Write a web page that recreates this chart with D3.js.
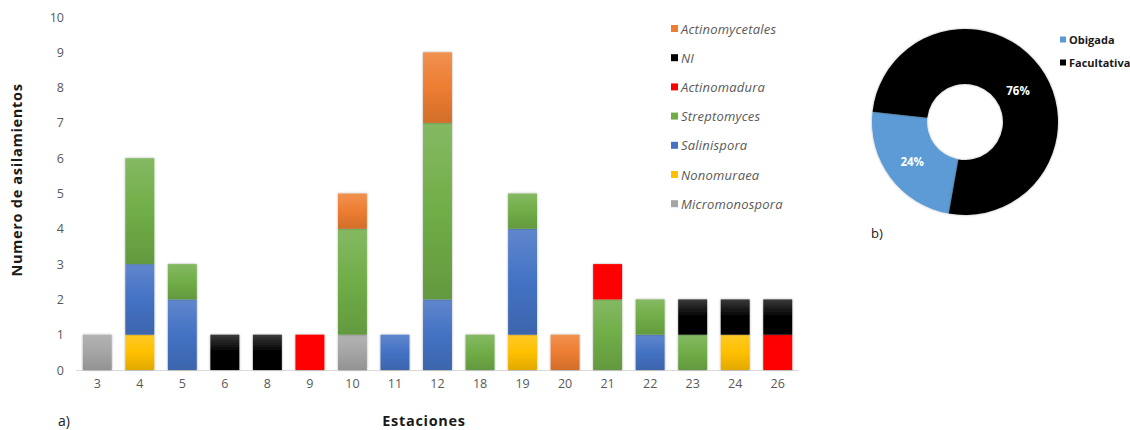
<!DOCTYPE html>
<meta charset="utf-8">
<style>
  body { margin: 0; background: #fff; }
  text { font-family: "Open Sans", "DejaVu Sans", sans-serif; }
  .tick text { fill: #595959; font-size: 12.5px; }
</style>
<svg width="1130" height="430"></svg>
<script src="https://d3js.org/d3.v7.min.js"></script>
<script>
  var estaciones = ["3", "4", "5", "6", "8", "9", "10", "11", "12", "18", "19", "20", "21", "22", "23", "24", "26"];
  var micromonospora = [1, 0, 0, 0, 0, 0, 1, 0, 0, 0, 0, 0, 0, 0, 0, 0, 0];
  var nonomuraea     = [0, 1, 0, 0, 0, 0, 0, 0, 0, 0, 1, 0, 0, 0, 0, 1, 0];
  var salinispora    = [0, 2, 2, 0, 0, 0, 0, 1, 2, 0, 3, 0, 0, 1, 0, 0, 0];
  var streptomyces   = [0, 3, 1, 0, 0, 0, 3, 0, 5, 1, 1, 0, 2, 1, 1, 0, 0];
  var actinomadura   = [0, 0, 0, 0, 0, 1, 0, 0, 0, 0, 0, 0, 1, 0, 0, 0, 1];
  var ni             = [0, 0, 0, 1, 1, 0, 0, 0, 0, 0, 0, 0, 0, 0, 1, 1, 1];
  var actinomycetales = [0, 0, 0, 0, 0, 0, 1, 0, 2, 0, 0, 1, 0, 0, 0, 0, 0];

  // bottom to top
  var series = ["Micromonospora", "Nonomuraea", "Salinispora", "Streptomyces", "Actinomadura", "NI", "Actinomycetales"];
  var seriesValues = [micromonospora, nonomuraea, salinispora, streptomyces, actinomadura, ni, actinomycetales];
  var colors = ["#a5a5a5", "#ffc000", "#4472c4", "#70ad47", "#ff0000", "#000000", "#ed7d31"];

  var donutLabels = ["Obigada", "Facultativa"];
  var donutValues = [24, 76];
  var donutColors = ["#5b9bd5", "#000000"];

  var svg = d3.select("svg");
  var defs = svg.append("defs");

  // gradients like the original bars (light top, darker bottom)
  colors.forEach(function(c, i) {
    var g = defs.append("linearGradient").attr("id", "grad" + i)
      .attr("x1", 0).attr("y1", 0).attr("x2", 0).attr("y2", 1);
    var col = d3.color(c);
    var top = c == "#000000" ? "#3a3a3a" : d3.interpolateRgb(c, "#ffffff")(0.15);
    var bot = c == "#000000" ? "#000000" : col.darker(0.35).formatHex();
    if (c == "#ff0000") { top = "#ff0000"; bot = "#ff0000"; }
    g.append("stop").attr("offset", "0%").attr("stop-color", top);
    g.append("stop").attr("offset", "50%").attr("stop-color", c);
    g.append("stop").attr("offset", "100%").attr("stop-color", bot);
  });

  var shadow = defs.append("filter").attr("id", "shadow")
    .attr("x", "-20%").attr("y", "-20%").attr("width", "140%").attr("height", "140%");
  shadow.append("feDropShadow").attr("dx", 0).attr("dy", 0).attr("stdDeviation", 1.2)
    .attr("flood-color", "#000").attr("flood-opacity", 0.35);

  // ---- stacked bars ----
  var x = d3.scaleBand().domain(estaciones).range([76, 799]).paddingInner(0.32).paddingOuter(0.16);
  var y = d3.scaleLinear().domain([0, 10]).range([370, 17]);

  var rows = estaciones.map(function(e, i) {
    var r = { est: e };
    series.forEach(function(s, j) { r[s] = seriesValues[j][i]; });
    return r;
  });
  var stacked = d3.stack().keys(series)(rows);

  var yAxis = svg.append("g").attr("transform", "translate(70,0)")
    .call(d3.axisLeft(y).ticks(10).tickSize(0).tickPadding(6));
  yAxis.select(".domain").remove();

  svg.append("line").attr("x1", 76).attr("x2", 799).attr("y1", y(0) + 0.5).attr("y2", y(0) + 0.5)
    .attr("stroke", "#d9d9d9");

  var xAxis = svg.append("g").attr("transform", "translate(0," + y(0) + ")")
    .call(d3.axisBottom(x).tickSize(0).tickPadding(9));
  xAxis.select(".domain").remove();

  svg.append("g").selectAll("g")
    .data(stacked)
    .enter().append("g")
    .attr("fill", function(d, i) { return "url(#grad" + i + ")"; })
    .selectAll("rect")
    .data(function(d) { return d.filter(function(p) { return p[1] > p[0]; }); })
    .enter().append("rect")
    .attr("x", function(d) { return x(d.data.est); })
    .attr("y", function(d) { return y(d[1]); })
    .attr("width", x.bandwidth())
    .attr("height", function(d) { return y(d[0]) - y(d[1]); })
    .attr("filter", "url(#shadow)");

  svg.append("text").attr("transform", "translate(22,180) rotate(-90)")
    .attr("text-anchor", "middle").attr("font-size", 14.5).attr("font-weight", "bold")
    .attr("letter-spacing", 0.7).attr("fill", "#1a1a1a").text("Numero de asilamientos");

  svg.append("text").attr("x", 424).attr("y", 426).attr("text-anchor", "middle")
    .attr("font-size", 14.5).attr("font-weight", "bold").attr("fill", "#1a1a1a")
    .attr("letter-spacing", 0.7).text("Estaciones");

  svg.append("text").attr("x", 58).attr("y", 426).attr("font-size", 14)
    .attr("fill", "#1a1a1a").text("a)");

  // legend (top to bottom is reverse of stack order)
  var legend = svg.append("g").selectAll("g")
    .data(series.slice().reverse())
    .enter().append("g")
    .attr("transform", function(d, i) { return "translate(671," + (29 + i * 29.2) + ")"; });
  legend.append("rect").attr("x", 0).attr("y", -4).attr("width", 7).attr("height", 7)
    .attr("fill", function(d) { return colors[series.indexOf(d)]; });
  legend.append("text").attr("x", 10).attr("y", 4.5)
    .attr("font-size", 13).attr("font-style", "italic").attr("fill", "#595959")
    .attr("letter-spacing", 0.2)
    .text(function(d) { return d; });

  // ---- donut ----
  var pie = d3.pie().sort(null).startAngle(190 * Math.PI / 180).endAngle(550 * Math.PI / 180);
  var arcs = pie(donutValues);
  var arc = d3.arc().innerRadius(38).outerRadius(93);
  var labelArc = d3.arc().innerRadius(66).outerRadius(66);

  var donut = svg.append("g").attr("transform", "translate(965,122)");
  donut.selectAll("path").data(arcs).enter().append("path")
    .attr("d", arc)
    .attr("fill", function(d, i) { return donutColors[i]; })
    .attr("filter", "url(#shadow)");

  donut.selectAll("text").data(arcs).enter().append("text")
    .attr("transform", function(d, i) {
      var c = labelArc.centroid(d);
      return i == 1 ? "translate(53,-31)" : "translate(" + c[0] + "," + c[1] + ")";
    })
    .attr("text-anchor", "middle").attr("dy", "0.35em")
    .attr("font-size", 11.5).attr("font-weight", "bold").attr("fill", "#fff")
    .text(function(d) { return d.data + "%"; });

  var dl = svg.append("g").selectAll("g").data(donutLabels).enter().append("g")
    .attr("transform", function(d, i) { return "translate(1060," + (40 + i * 23) + ")"; });
  dl.append("rect").attr("x", 0).attr("y", -3.5).attr("width", 6).attr("height", 6)
    .attr("fill", function(d, i) { return donutColors[i]; });
  dl.append("text").attr("x", 9).attr("y", 4).attr("font-size", 11).attr("font-weight", "bold")
    .attr("fill", "#1a1a1a").text(function(d) { return d; });

  svg.append("text").attr("x", 871).attr("y", 238).attr("font-size", 13)
    .attr("fill", "#1a1a1a").text("b)");
</script>
